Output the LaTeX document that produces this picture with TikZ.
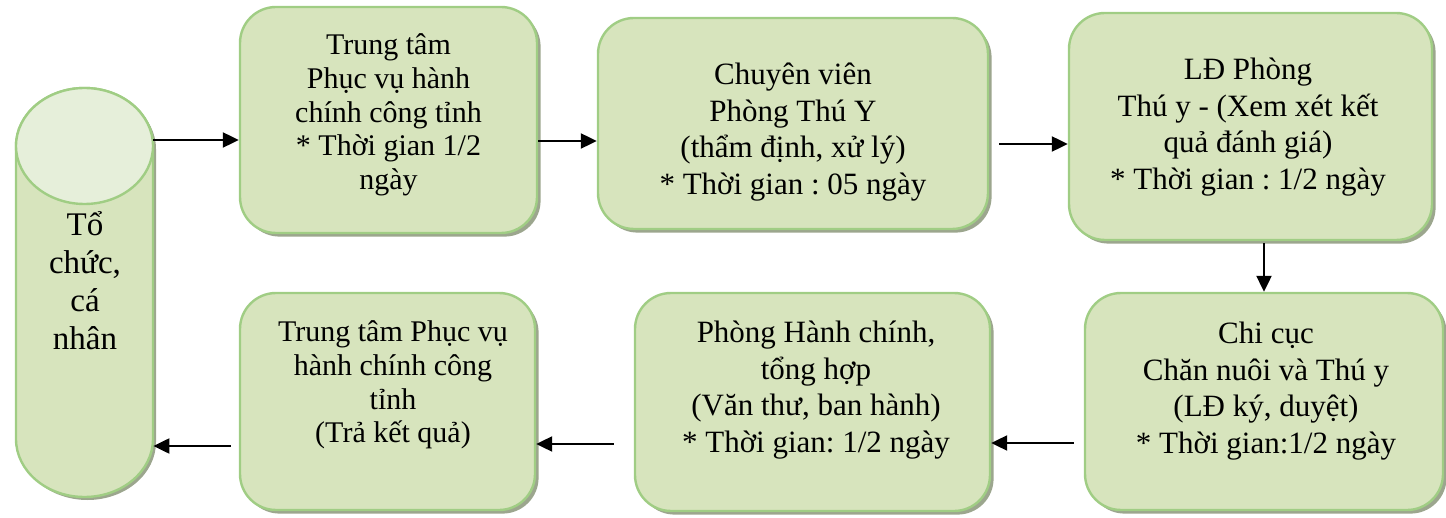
\documentclass[tikz,border=0pt]{standalone}
\usepackage{fontspec}
\setmainfont{Liberation Serif}
\usetikzlibrary{arrows.meta,shadows}
\definecolor{boxfill}{HTML}{D7E4BD}
\definecolor{boxline}{HTML}{A0CD84}
\definecolor{capfill}{HTML}{E6EFDA}
\definecolor{shadowc}{HTML}{9CA68E}
\frenchspacing
\begin{document}
\begin{tikzpicture}[x=0.5pt,y=-0.5pt,
  box/.style={draw=boxline, line width=1.2pt, fill=boxfill, rounded corners=18pt,
    drop shadow={shadow xshift=1.8pt, shadow yshift=-1.8pt, fill=shadowc, opacity=1},
    inner sep=0pt},
  txt/.style={align=center, font=\fontsize{15.5}{18.3}\selectfont, inner sep=0pt},
  txtsmall/.style={align=center, font=\fontsize{15}{16.8}\selectfont, inner sep=0pt},
  arr/.style={line width=1.1pt, -{Triangle[length=8pt,width=7.5pt]}}]
\useasboundingbox (0,0) rectangle (1446,518);

% cylinder
\begin{scope}[shift={(3,3)}]
\fill[shadowc] (16,146) -- (16,439) arc[start angle=180, end angle=0, x radius=68.5, y radius=58]
  -- (153,146) arc[start angle=0, end angle=-180, x radius=68.5, y radius=58] -- cycle;
\end{scope}
\path[fill=boxfill, draw=boxline, line width=1.2pt] (16,146) -- (16,439)
  arc[start angle=180, end angle=0, x radius=68.5, y radius=58]
  -- (153,146) arc[start angle=0, end angle=-180, x radius=68.5, y radius=58] -- cycle;
\path[fill=capfill, draw=boxline, line width=1.2pt] (84.5,146) ellipse [x radius=68.5, y radius=58];
\node[minimum width=68.5pt, minimum height=204.5pt, inner sep=0pt] (cyl) at (84.5,292.5) {};
\node[align=center, font=\fontsize{16.5}{19}\selectfont, inner sep=0pt] (tc) at (85,281) {Tổ\\chức,\\cá\\nhân};

% boxes
\node[box, minimum width=148.5pt, minimum height=113pt] (b1) at (388.5,120) {};
\node[box, minimum width=195pt, minimum height=105.5pt] (b2) at (793,123.5) {};
\node[box, minimum width=181.5pt, minimum height=113.5pt] (b3) at (1250.5,126.5) {};
\node[box, minimum width=179pt, minimum height=108.5pt] (b4) at (1264,401.5) {};
\node[box, minimum width=177.5pt, minimum height=109pt] (b5) at (812.5,402) {};
\node[box, minimum width=147.5pt, minimum height=108.5pt] (b6) at (387.5,401.5) {};

% texts
\node[txtsmall] (t1) at (388.5,115) {Trung tâm\\Phục vụ hành\\chính công tỉnh\\* Thời gian 1/2\\ngày};
\node[txt] (t2) at (793,132) {Chuyên viên\\Phòng Thú Y\\(thẩm định, xử lý)\\* Thời gian : 05 ngày};
\node[txt] (t3) at (1248,127) {LĐ Phòng\\Thú y - (Xem xét kết\\quả đánh giá)\\* Thời gian : 1/2 ngày};
\node[txt] (t4) at (1266,391) {Chi cục\\Chăn nuôi và Thú y\\(LĐ ký, duyệt)\\* Thời gian:1/2 ngày};
\node[txt] (t5) at (816,390) {Phòng Hành chính,\\tổng hợp\\(Văn thư, ban hành)\\* Thời gian: 1/2 ngày};
\node[txtsmall] (t6) at (393,385) {Trung tâm Phục vụ\\hành chính công\\tỉnh\\(Trả kết quả)};

% arrows
\coordinate (s3) at ([xshift=5pt]b2.east);
\coordinate (s5) at ([xshift=-5pt]b4.west);
\coordinate (s6) at ([xshift=-10pt]b5.west);
\coordinate (s7) at ([xshift=-4pt]b6.west);
\draw[arr] (cyl.east |- 0,140) -- (b1.west |- 0,140);
\draw[arr] (b1.east |- 0,141) -- (b2.west |- 0,141);
\draw[arr] (s3 |- 0,144) -- (b3.west |- 0,144);
\draw[arr] ([yshift=-1pt]b3.south -| b4.north) -- (b4.north);
\draw[arr] (s5 |- 0,443) -- (b5.east |- 0,443);
\draw[arr] (s6 |- 0,444) -- (b6.east |- 0,444);
\draw[arr] (s7 |- 0,446) -- (cyl.east |- 0,446);
\end{tikzpicture}
\end{document}
